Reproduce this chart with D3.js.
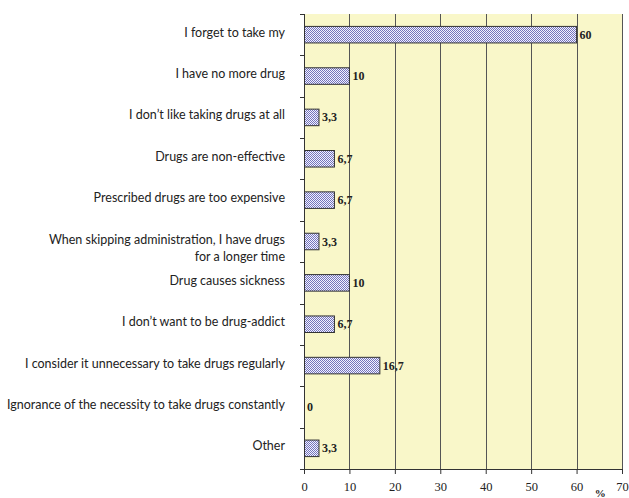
<!DOCTYPE html>
<html>
<head>
<meta charset="utf-8">
<script src="https://cdn.jsdelivr.net/npm/d3@7"></script>
<style>
  html, body { margin: 0; padding: 0; background: #fff; }
  svg { display: block; }
</style>
</head>
<body>
<svg id="chart" width="629" height="498"></svg>
<script>
// Reasons for skipping medication (share of respondents, %)
const categories = [
  ["I forget to take my"],
  ["I have no more drug"],
  ["I don’t like taking drugs at all"],
  ["Drugs are non-effective"],
  ["Prescribed drugs are too expensive"],
  ["When skipping administration, I have drugs", "for a longer time"],
  ["Drug causes sickness"],
  ["I don’t want to be drug-addict"],
  ["I consider it unnecessary to take drugs regularly"],
  ["Ignorance of the necessity to take drugs constantly"],
  ["Other"]
];
const values = [60, 10, 3.3, 6.7, 6.7, 3.3, 10, 6.7, 16.7, 0, 3.3];
const xTicks = [0, 10, 20, 30, 40, 50, 60, 70];
const unitLabel = "%";

const serif = "'Liberation Serif', 'Times New Roman', serif";

const svg = d3.select("#chart");
const margin = { left: 304, right: 7, top: 14, bottom: 29 };
const W = 629, H = 498;
const innerW = W - margin.left - margin.right;
const innerH = H - margin.top - margin.bottom;

// Checkered fill for the bars
const defs = svg.append("defs");
const pat = defs.append("pattern")
  .attr("id", "checker").attr("width", 2).attr("height", 2)
  .attr("patternUnits", "userSpaceOnUse");
pat.append("rect").attr("width", 2).attr("height", 2).attr("fill", "#f2f2ff");
pat.append("rect").attr("width", 1).attr("height", 1).attr("fill", "#7474bc");
pat.append("rect").attr("x", 1).attr("y", 1).attr("width", 1).attr("height", 1).attr("fill", "#7474bc");

const x = d3.scaleLinear().domain([0, 70]).range([0, innerW]);
const y = d3.scaleBand().domain(d3.range(categories.length)).range([0, innerH]).paddingInner(0).paddingOuter(0);

const g = svg.append("g").attr("transform", `translate(${margin.left},${margin.top})`);

// Plot background
g.append("rect").attr("width", innerW).attr("height", innerH).attr("fill", "#f9f7c9");

// Vertical gridlines
g.selectAll("line.grid").data(xTicks.slice(1)).join("line")
  .attr("class", "grid")
  .attr("x1", d => Math.round(x(d)) + 0.5).attr("x2", d => Math.round(x(d)) + 0.5)
  .attr("y1", 0).attr("y2", innerH)
  .attr("stroke", "#555").attr("stroke-width", 1);

// Bars
const barH = y.bandwidth() * 0.4;
g.selectAll("rect.bar").data(values).join("rect")
  .attr("class", "bar")
  .attr("x", 0.5)
  .attr("y", (d, i) => y(i) + (y.bandwidth() - barH) / 2)
  .attr("width", d => Math.max(0, x(d) - 0.5))
  .attr("height", barH)
  .attr("fill", "url(#checker)")
  .attr("stroke", d => d > 0 ? "#333" : "none")
  .attr("stroke-width", 1);

// Value labels
g.selectAll("text.val").data(values).join("text")
  .attr("class", "val")
  .attr("x", d => x(d) + 3)
  .attr("y", (d, i) => y(i) + y.bandwidth() / 2 + 4)
  .style("font-family", serif)
  .attr("font-weight", "bold")
  .attr("font-size", 12)
  .attr("fill", "#222")
  .text(d => String(d).replace(".", ","));

// Bottom axis
const xAxis = g.append("g").attr("transform", `translate(0,${innerH})`)
  .call(d3.axisBottom(x).tickValues(xTicks).tickSize(5).tickPadding(8).tickFormat(d3.format("d")));
xAxis.attr("font-family", null);
xAxis.select(".domain").attr("stroke", "#333");
xAxis.selectAll(".tick line").attr("stroke", "#333");
xAxis.selectAll("text")
  .style("font-family", serif)
  .attr("font-size", 12.5).attr("fill", "#222");

// Left axis with ticks between categories
const yAxisG = g.append("g");
yAxisG.append("line").attr("x1", 0.5).attr("x2", 0.5).attr("y1", 0).attr("y2", innerH).attr("stroke", "#333");
yAxisG.selectAll("line.tk").data(d3.range(categories.length + 1)).join("line")
  .attr("class", "tk")
  .attr("x1", -4).attr("x2", 0.5)
  .attr("y1", i => Math.round(i * y.step()) + 0.5).attr("y2", i => Math.round(i * y.step()) + 0.5)
  .attr("stroke", "#333");

// Category labels
const labels = g.selectAll("text.cat").data(categories).join("text")
  .attr("class", "cat")
  .attr("text-anchor", "end")
  .style("font-family", "Lato, 'Open Sans', sans-serif")
  .attr("font-size", 12.5)
  .attr("fill", "#222")
  .attr("transform", (d, i) => `translate(-19,${y(i) + y.bandwidth() / 2 + 2})`);
labels.selectAll("tspan").data(d => d).join("tspan")
  .attr("x", 0)
  .attr("y", (t, j) => j * 17)
  .text(t => t);

// Unit label
g.append("text")
  .attr("x", x(65) + 1).attr("y", innerH + 28)
  .attr("text-anchor", "middle")
  .style("font-family", serif)
  .attr("font-weight", "bold").attr("font-size", 11)
  .attr("fill", "#222")
  .text(unitLabel);
</script>
</body>
</html>
